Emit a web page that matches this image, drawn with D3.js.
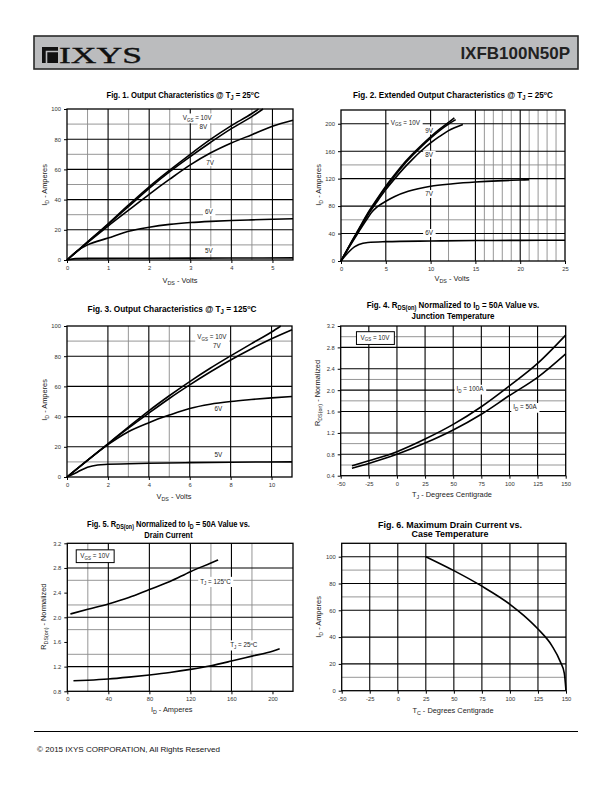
<!DOCTYPE html>
<html><head><meta charset="utf-8">
<script src="https://cdn.jsdelivr.net/npm/d3@7"></script>
<style>body{margin:0;background:#fff}svg{display:block}</style>
</head><body><svg id="c" width="612" height="792" font-family="Liberation Sans, Arial, sans-serif"></svg>
<script>
// ---------------- DATA ----------------
// Fig.1 Output characteristics @25C  (VDS volts, ID amps)
const fig1XTicks = [0,1,2,3,4,5];
const fig1YTicks = [0,20,40,60,80,100];
const fig1Vgs10 = [[0,0],[0.5,12],[1,24],[1.5,36.5],[2,48.5],[2.5,59.5],[3,70],[3.5,80],[4,89],[4.5,97],[4.66,100]];
const fig1Vgs8  = [[0,0],[0.5,11.8],[1,23.5],[1.5,35.5],[2,47.5],[2.5,58.5],[3,68.5],[3.5,78],[4,87],[4.5,95],[4.77,100]];
const fig1Vgs7  = [[0,0],[0.5,11.5],[1,22.5],[1.5,33],[2,43.5],[2.5,53.5],[3,63],[3.5,71],[4,77.5],[4.5,83],[5,88.5],[5.5,92.5]];
const fig1Vgs6  = [[0,0],[0.25,6],[0.5,10],[1,14.5],[1.5,19],[2,21.7],[2.5,23.6],[3,24.8],[3.5,25.6],[4,26.2],[4.5,26.6],[5,27],[5.5,27.3]];
const fig1Vgs5  = [[0,0],[0.2,0.9],[0.5,1.1],[2,1.2],[4,1.3],[5.5,1.4]];

// Fig.2 Extended output characteristics @25C
const fig2XTicks = [0,5,10,15,20,25];
const fig2YTicks = [0,40,80,120,160,200];
const fig2Vgs10 = [[0,0],[1,24],[2,47],[3,70],[4,90],[5,109],[6,126],[7,142],[8,156],[9,169],[10,181],[11,192],[12,202],[12.65,208.5]];
const fig2Vgs9  = [[0,0],[1,23.5],[2,46],[3,68.5],[4,88.5],[5,107],[6,124],[7,140],[8,154],[9,167],[10,179],[11,190],[12,199.5],[12.8,206]];
const fig2Vgs8  = [[0,0],[1,23],[2,45],[3,67],[4,86],[5,104],[6,120],[7,135],[8,148.5],[9,161],[10,172],[11,181.5],[12,190],[13.6,199]];
const fig2Vgs7  = [[0,0],[1,22],[2,43],[3,63],[3.5,72],[4,78.5],[5,87],[6,94],[7.5,101.5],[10,109],[12.5,112.5],[15,115],[17.5,116.8],[20,118],[21,118.5]];
const fig2Vgs6  = [[0,0],[0.5,8],[1,15],[1.5,20.5],[2,24],[3,27],[5,28.2],[10,29.2],[15,29.8],[20,30.1],[25,30.3]];

// Fig.3 Output characteristics @125C
const fig3XTicks = [0,2,4,6,8,10];
const fig3YTicks = [0,20,40,60,80,100];
const fig3Vgs10 = [[0,0],[1,11],[2,22],[3,33],[4,43.8],[5,53.8],[6,63.2],[7,72],[8,80.2],[9,88.2],[10,96],[10.45,100]];
const fig3Vgs7  = [[0,0],[1,11],[2,21.8],[3,32.3],[4,42.3],[5,52],[6,61],[7,69.5],[8,77.5],[9,84.8],[10,91.5],[11,97.5]];
const fig3Vgs6  = [[0,0],[1,11],[2,21.4],[3,30],[4,36],[5,41],[6,45.4],[7,48.2],[8,50],[9,51.3],[10,52.4],[11,53.3]];
const fig3Vgs5  = [[0,0],[0.5,3.2],[1,6.5],[1.5,8],[2,8.4],[4,9.1],[6,9.5],[8,9.8],[11,10]];

// Fig.4 RDS(on) normalized vs junction temperature
const fig4XTicks = [-50,-25,0,25,50,75,100,125,150];
const fig4YTicks = [0.4,0.8,1.2,1.6,2.0,2.4,2.8,3.2];
const fig4Temp   = [-40,-25,0,25,50,75,100,125,150];
const fig4Id100  = [0.585,0.68,0.85,1.086,1.36,1.69,2.08,2.5,3.03];
const fig4Id50   = [0.54,0.63,0.80,1.01,1.255,1.55,1.9,2.24,2.68];

// Fig.5 RDS(on) normalized vs drain current
const fig5XTicks = [0,40,80,120,160,200];
const fig5YTicks = [0.8,1.2,1.6,2.0,2.4,2.8,3.2];
const fig5Id125  = [3,20,40,60,80,100,120,140,147];
const fig5Tj125  = [2.054,2.13,2.216,2.32,2.45,2.58,2.74,2.88,2.93];
const fig5Id25   = [6,20,40,60,80,100,120,140,160,180,200,207];
const fig5Tj25   = [0.97,0.98,1.0,1.03,1.065,1.105,1.155,1.215,1.29,1.37,1.45,1.49];

// Fig.6 Maximum drain current vs case temperature
const fig6XTicks = [-50,-25,0,25,50,75,100,125,150];
const fig6YTicks = [0,20,40,60,80,100];
const fig6Tc     = [25,50,75,100,112.5,125,137.5,145,148.5,150];
const fig6Id     = [100,89.6,78,64.5,56,46,33.5,21.5,13,0];

// grid lines (values)
const fig1MajX=[1,2,3,4,5], fig1MinX=[0.5,1.5,2.5,3.5,4.5], fig1MajY=[20,40,60,80], fig1MinY=[10,30,50,70,90];
const fig2MajX=[5,10,15,20], fig2MinX=[12,16,17,18,19,21,22,23,24], fig2MajY=[40,80,120,160,200], fig2MinY=[60,140];
const fig3MajX=[2,4,6,8,10], fig3MinX=[3,5], fig3MajY=[20,40,60,80], fig3MinY=[10,90];
const fig4MajX=[-25,0,25,50,75,100,125], fig4MinX=[], fig4MajY=[0.8,1.2,1.6,2.0,2.4,2.8], fig4MinY=[0.6,1.0,1.8,2.2,3.0];
const fig5MajX=[40,80,120,160], fig5MinX=[20,140,180], fig5MajY=[1.2,2.0,2.8], fig5MinY=[1.4,1.8,2.2,2.6];
const fig6MajX=[-25,0,25,50,75,100,125], fig6MinX=[], fig6MajY=[20,40,60,80,100], fig6MinY=[10,70,90];

// ---------------- HELPERS ----------------
const svg = d3.select("#c");
const zip = (xs, ys) => xs.map((x,i)=>[x, ys[i]]);

// parts: array of [text, mode] where mode is undefined | "sub" | "sup"
function rich(sel, parts, size, subShift){
  let shift = 0;
  const ss = subShift==null ? 0.28 : subShift;
  parts.forEach(p=>{
    const t = sel.append("tspan").text(p[0]);
    let target = 0, fs = size;
    if (p[1]==="sub"){ target = size*ss; fs = size*0.72; }
    if (p[1]==="sup"){ target = -size*0.38; fs = size*0.65; }
    t.attr("font-size", fs);
    if (target !== shift){ t.attr("dy", target - shift); shift = target; }
  });
  return sel;
}

function drawPanel(cfg){
  const g = svg.append("g");
  const x = d3.scaleLinear().domain(cfg.xd).range([cfg.l, cfg.r]);
  const y = d3.scaleLinear().domain(cfg.yd).range([cfg.b, cfg.t]);
  // minor grid
  g.selectAll(null).data(cfg.minX).enter().append("line")
    .attr("x1",d=>x(d)).attr("x2",d=>x(d)).attr("y1",cfg.t).attr("y2",cfg.b)
    .attr("stroke","#8a8a8a").attr("stroke-width",0.9);
  g.selectAll(null).data(cfg.minY).enter().append("line")
    .attr("y1",d=>y(d)).attr("y2",d=>y(d)).attr("x1",cfg.l).attr("x2",cfg.r)
    .attr("stroke","#8a8a8a").attr("stroke-width",0.9);
  // major grid
  g.selectAll(null).data(cfg.majX).enter().append("line")
    .attr("x1",d=>x(d)).attr("x2",d=>x(d)).attr("y1",cfg.t).attr("y2",cfg.b)
    .attr("stroke","#000").attr("stroke-width",1.1);
  g.selectAll(null).data(cfg.majY).enter().append("line")
    .attr("y1",d=>y(d)).attr("y2",d=>y(d)).attr("x1",cfg.l).attr("x2",cfg.r)
    .attr("stroke","#000").attr("stroke-width",1.1);
  // axes
  const fmt = cfg.fmt || {};
  const ax = g.append("g").attr("transform",`translate(0,${cfg.b})`)
    .call(d3.axisBottom(x).tickValues(cfg.xt).tickFormat(fmt.x||(d=>d)).tickSize(3).tickSizeOuter(0).tickPadding(3));
  const ay = g.append("g").attr("transform",`translate(${cfg.l},0)`)
    .call(d3.axisLeft(y).tickValues(cfg.yt).tickFormat(fmt.y||(d=>d)).tickSize(3).tickSizeOuter(0).tickPadding(3));
  [ax,ay].forEach(a=>{
    a.attr("font-family","Liberation Sans, Arial, sans-serif");
    a.select(".domain").remove();
    a.selectAll("text").attr("font-size",5.8).attr("fill","#333");
    a.selectAll("line").attr("stroke","#000");
  });
  // labels on curves (white boxes over grid, before curves)
  const labG = g.append("g");
  (cfg.labels||[]).forEach(L=>{
    const s = L.size||6.3;
    const t = labG.append("text").attr("x",x(L.x)).attr("y",y(L.y)+2.2).attr("text-anchor","middle")
      .attr("font-size",s).attr("fill","#222");
    rich(t, L.parts, s);
    const bb = t.node().getBBox();
    const px = L.box?4:2, py = L.box?2:0.5;
    labG.insert("rect","text").attr("x",bb.x-px).attr("y",bb.y-py).attr("width",bb.width+2*px).attr("height",bb.height+2*py)
      .attr("fill","#fff").attr("stroke", L.box? "#000":"none").attr("stroke-width",1);
  });
  // curves
  const line = d3.line().x(d=>x(d[0])).y(d=>y(d[1])).curve(d3.curveMonotoneX);
  g.selectAll(null).data(cfg.series).enter().append("path")
    .attr("d",line).attr("fill","none").attr("stroke","#000").attr("stroke-width",1.6);
  // frame
  g.append("rect").attr("x",cfg.l).attr("y",cfg.t).attr("width",cfg.r-cfg.l).attr("height",cfg.b-cfg.t)
    .attr("fill","none").attr("stroke","#000").attr("stroke-width",1.3);
  // titles: first line fitted to measured width, other lines use the same horizontal squeeze
  let sx = 1;
  cfg.title.forEach((T,i)=>{
    const t = svg.append("text").attr("x",0).attr("y",0).attr("text-anchor","middle")
      .attr("font-weight","bold").attr("font-size",8.8).attr("fill","#000");
    rich(t, T.parts, 8.8, 0.2);
    const nat = t.node().getComputedTextLength();
    if (i===0) sx = T.w / nat;
    t.attr("transform",`translate(${T.x},${T.y}) scale(${sx},1)`);
  });
  // axis titles
  const xt = svg.append("text").attr("x",cfg.xTitle.x).attr("y",cfg.xTitle.y).attr("text-anchor","middle")
    .attr("font-size",7.4).attr("fill","#222");
  rich(xt, cfg.xTitle.parts, 7.4);
  const yt = svg.append("text").attr("transform",`translate(${cfg.yTitle.x},${cfg.yTitle.y}) rotate(-90)`)
    .attr("text-anchor","middle").attr("dy","0.35em").attr("font-size",7.4).attr("fill","#222");
  rich(yt, cfg.yTitle.parts, 7.4);
}

// ---------------- HEADER ----------------
svg.append("rect").attr("x",34).attr("y",36).attr("width",544).attr("height",33)
  .attr("fill","#bbbcbe").attr("stroke","#2a2a2a").attr("stroke-width",1.6);
svg.append("rect").attr("x",42).attr("y",47).attr("width",16).attr("height",16).attr("fill","#111");
svg.append("path").attr("d","M46.5,63 V51.5 H58").attr("fill","none").attr("stroke","#bbbcbe").attr("stroke-width",1.6);
svg.append("text").attr("x",59).attr("y",63.3).attr("font-family","Liberation Serif, Times New Roman, serif")
  .attr("font-size",24).attr("fill","#111").attr("stroke","#111").attr("stroke-width",0.4)
  .attr("textLength",83).attr("lengthAdjust","spacingAndGlyphs").text("IXYS");
svg.append("text").attr("x",570).attr("y",59).attr("text-anchor","end").attr("font-weight","bold")
  .attr("font-size",17).attr("fill","#222").text("IXFB100N50P");

// ---------------- PANELS ----------------
const V = (n)=>[["V"],["GS","sub"],[" = "+n]];
drawPanel({
  l:67,r:293,t:109,b:260, xd:[0,5.5], yd:[0,100], xt:fig1XTicks, yt:fig1YTicks,
  majX:fig1MajX,minX:fig1MinX,majY:fig1MajY,minY:fig1MinY,
  series:[fig1Vgs10,fig1Vgs8,fig1Vgs7,fig1Vgs6,fig1Vgs5],
  labels:[{x:3.17,y:94.2,parts:V("10V")},{x:3.32,y:88.3,parts:[["8V"]]},{x:3.48,y:64.7,parts:[["7V"]]},
          {x:3.45,y:31.6,parts:[["6V"]]},{x:3.45,y:6.2,parts:[["5V"]]}],
  title:[{x:183,y:98,w:153,parts:[["Fig. 1. Output Characteristics @ T"],["J","sub"],[" = 25"],["o","sup"],["C"]]}],
  xTitle:{x:180,y:283,parts:[["V"],["DS","sub"],[" - Volts"]]},
  yTitle:{x:44,y:185,parts:[["I"],["D","sub"],[" - Amperes"]]}
});
drawPanel({
  l:341,r:565,t:110,b:261, xd:[0,25], yd:[0,220], xt:fig2XTicks, yt:fig2YTicks,
  majX:fig2MajX,minX:fig2MinX,majY:fig2MajY,minY:fig2MinY,
  series:[fig2Vgs10,fig2Vgs9,fig2Vgs8,fig2Vgs7,fig2Vgs6],
  labels:[{x:7.18,y:202,parts:V("10V")},{x:9.82,y:189.8,parts:[["9V"]]},{x:9.82,y:154.4,parts:[["8V"]]},
          {x:9.82,y:97.2,parts:[["7V"]]},{x:9.82,y:40.4,parts:[["6V"]]}],
  title:[{x:453,y:98,w:200,parts:[["Fig. 2. Extended Output Characteristics @ T"],["J","sub"],[" = 25"],["o","sup"],["C"]]}],
  xTitle:{x:452,y:281,parts:[["V"],["DS","sub"],[" - Volts"]]},
  yTitle:{x:318,y:185,parts:[["I"],["D","sub"],[" - Amperes"]]}
});
drawPanel({
  l:67,r:292,t:326,b:477, xd:[0,11], yd:[0,100], xt:fig3XTicks, yt:fig3YTicks,
  majX:fig3MajX,minX:fig3MinX,majY:fig3MajY,minY:fig3MinY,
  series:[fig3Vgs10,fig3Vgs7,fig3Vgs6,fig3Vgs5],
  labels:[{x:7.08,y:92.9,parts:V("10V")},{x:7.32,y:87.2,parts:[["7V"]]},{x:7.4,y:45.2,parts:[["6V"]]},{x:7.4,y:15,parts:[["5V"]]}],
  title:[{x:172,y:312,w:169,parts:[["Fig. 3. Output Characteristics @ T"],["J","sub"],[" = 125"],["o","sup"],["C"]]}],
  xTitle:{x:174,y:499,parts:[["V"],["DS","sub"],[" - Volts"]]},
  yTitle:{x:44,y:400,parts:[["I"],["D","sub"],[" - Amperes"]]}
});
drawPanel({
  l:340.7,r:565.7,t:326,b:475.7, xd:[-50,150], yd:[0.4,3.2], xt:fig4XTicks, yt:fig4YTicks,
  fmt:{y:d3.format(".1f")},
  majX:fig4MajX,minX:fig4MinX,majY:fig4MajY,minY:fig4MinY,
  series:[zip(fig4Temp,fig4Id100),zip(fig4Temp,fig4Id50)],
  labels:[{x:-19.5,y:2.985,parts:V("10V"),box:true},{x:64.9,y:2.02,parts:[["I"],["D","sub"],[" = 100A"]]},
          {x:113.8,y:1.68,parts:[["I"],["D","sub"],[" = 50A"]]}],
  title:[{x:453,y:308,w:173,parts:[["Fig. 4. R"],["DS(on)","sub"],[" Normalized to I"],["D","sub"],[" = 50A Value vs."]]},
         {x:453,y:319,parts:[["Junction Temperature"]]}],
  xTitle:{x:452,y:496.5,parts:[["T"],["J","sub"],[" - Degrees Centigrade"]]},
  yTitle:{x:317,y:393,parts:[["R"],["DS(on)","sub"],[" - Normalized"]]}
});
drawPanel({
  l:67.3,r:293,t:543.3,b:691.3, xd:[0,220], yd:[0.8,3.2], xt:fig5XTicks, yt:fig5YTicks,
  fmt:{y:d3.format(".1f")},
  majX:fig5MajX,minX:fig5MinX,majY:fig5MajY,minY:fig5MinY,
  series:[zip(fig5Id125,fig5Tj125),zip(fig5Id25,fig5Tj25)],
  labels:[{x:26.8,y:3.0,parts:V("10V"),box:true},{x:144.5,y:2.58,parts:[["T"],["J","sub"],[" = 125"],["o","sup"],["C"]]},
          {x:172,y:1.55,parts:[["T"],["J","sub"],[" = 25"],["o","sup"],["C"]]}],
  title:[{x:168.5,y:527,w:163,parts:[["Fig. 5. R"],["DS(on)","sub"],[" Normalized to I"],["D","sub"],[" = 50A Value vs."]]},
         {x:168.5,y:537.5,parts:[["Drain Current"]]}],
  xTitle:{x:171.7,y:711.5,parts:[["I"],["D","sub"],[" - Amperes"]]},
  yTitle:{x:43.3,y:616.7,parts:[["R"],["DS(on)","sub"],[" - Normalized"]]}
});
drawPanel({
  l:341.7,r:566,t:543.3,b:690.7, xd:[-50,150], yd:[0,110], xt:fig6XTicks, yt:fig6YTicks,
  majX:fig6MajX,minX:fig6MinX,majY:fig6MajY,minY:fig6MinY,
  series:[zip(fig6Tc,fig6Id)],
  labels:[],
  title:[{x:450,y:527.5,w:144,parts:[["Fig. 6. Maximum Drain Current vs."]]},
         {x:450,y:537,parts:[["Case Temperature"]]}],
  xTitle:{x:453,y:712.5,parts:[["T"],["C","sub"],[" - Degrees Centigrade"]]},
  yTitle:{x:318,y:617,parts:[["I"],["D","sub"],[" - Amperes"]]}
});

// ---------------- FOOTER ----------------
svg.append("line").attr("x1",34).attr("x2",578).attr("y1",731.5).attr("y2",731.5).attr("stroke","#000").attr("stroke-width",1);
svg.append("text").attr("x",37).attr("y",752).attr("font-size",8).attr("fill","#111")
  .attr("textLength",183).attr("lengthAdjust","spacingAndGlyphs").text("© 2015 IXYS CORPORATION,  All Rights Reserved");
</script></body></html>
